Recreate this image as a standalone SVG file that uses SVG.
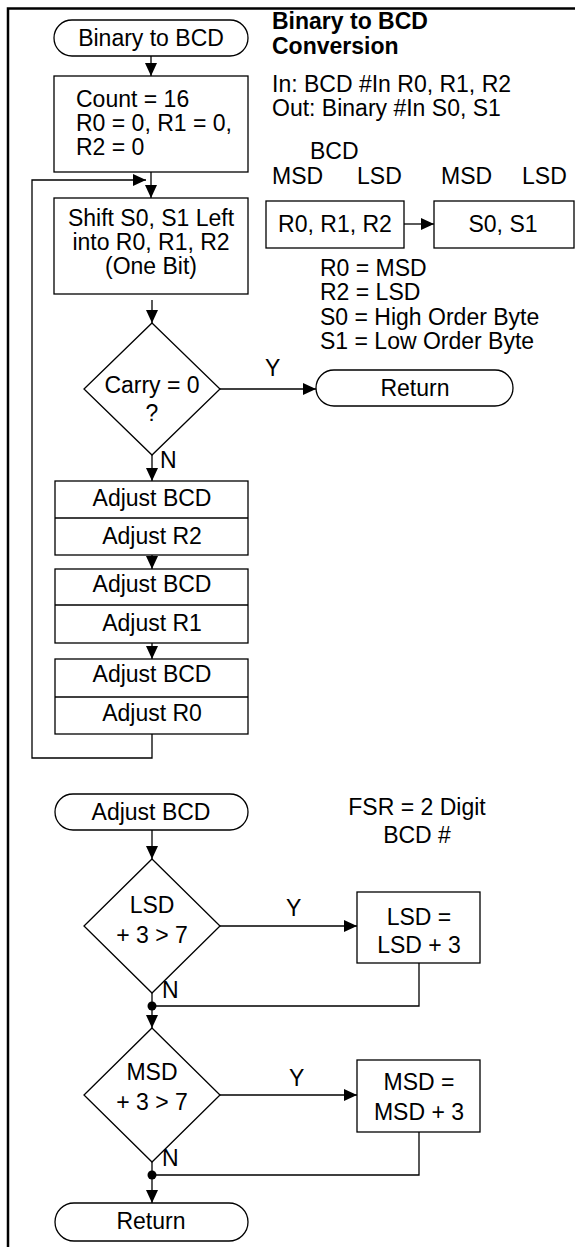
<svg xmlns="http://www.w3.org/2000/svg" width="575" height="1247" viewBox="0 0 575 1247">
<defs>
<style>
text{font-family:"Liberation Sans",Arial,sans-serif;font-size:23px;fill:#000}
.c{text-anchor:middle}
.b{font-weight:bold}
.s{fill:#fff;stroke:#000;stroke-width:1.3}
.ln{fill:none;stroke:#000;stroke-width:1.3}
.bd{fill:none;stroke:#000;stroke-width:2.5}
</style>
<marker id="ah" viewBox="0 0 13 12" refX="13" refY="6" markerWidth="13" markerHeight="12" markerUnits="userSpaceOnUse" orient="auto">
<path d="M0,0 L13,6 L0,12 Z" fill="#000"/>
</marker>
</defs>
<rect width="575" height="1247" fill="#fff"/>
<path class="bd" d="M8,1247 V8.5 H575"/>

<g id="connectors">
<line class="ln" x1="151" y1="56" x2="151" y2="76" marker-end="url(#ah)"/>
<line class="ln" x1="151" y1="172" x2="151" y2="198" marker-end="url(#ah)"/>
<path class="ln" d="M152,734 V758 H32 V180 H146" marker-end="url(#ah)"/>
<line class="ln" x1="152" y1="300" x2="152" y2="323" marker-end="url(#ah)"/>
<line class="ln" x1="220" y1="389" x2="316" y2="389" marker-end="url(#ah)"/>
<line class="ln" x1="152" y1="455" x2="152" y2="481" marker-end="url(#ah)"/>
<line class="ln" x1="152" y1="552" x2="152" y2="569" marker-end="url(#ah)"/>
<line class="ln" x1="152" y1="640" x2="152" y2="659" marker-end="url(#ah)"/>
<line class="ln" x1="404" y1="224" x2="434" y2="224" marker-end="url(#ah)"/>
<line class="ln" x1="152" y1="830" x2="152" y2="859" marker-end="url(#ah)"/>
<line class="ln" x1="220" y1="926" x2="357" y2="926" marker-end="url(#ah)"/>
<path class="ln" d="M419,963 V1006 H152"/>
<line class="ln" x1="152" y1="993" x2="152" y2="1006"/>
<line class="ln" x1="152" y1="1006" x2="152" y2="1028" marker-end="url(#ah)"/>
<circle cx="152" cy="1006" r="4.5" fill="#000"/>
<line class="ln" x1="220" y1="1095" x2="357" y2="1095" marker-end="url(#ah)"/>
<path class="ln" d="M419,1132 V1175 H152"/>
<line class="ln" x1="152" y1="1162" x2="152" y2="1175"/>
<line class="ln" x1="152" y1="1175" x2="152" y2="1203" marker-end="url(#ah)"/>
<circle cx="152" cy="1175" r="4.5" fill="#000"/>
<text x="265" y="376">Y</text>
<text x="160" y="468">N</text>
<text x="286" y="916">Y</text>
<text x="162" y="998">N</text>
<text x="289" y="1086">Y</text>
<text x="162" y="1166">N</text>
</g>

<g id="start">
<rect class="s" x="54" y="20" width="194" height="36" rx="18"/>
<text class="c" x="151" y="46">Binary to BCD</text>
</g>
<g id="init">
<rect class="s" x="54" y="76" width="194" height="96"/>
<text x="76" y="107">Count = 16</text>
<text x="76" y="131">R0 = 0, R1 = 0,</text>
<text x="76" y="155">R2 = 0</text>
</g>
<g id="shift">
<rect class="s" x="54" y="198" width="194" height="96"/>
<text class="c" x="151" y="226">Shift S0, S1 Left</text>
<text class="c" x="151" y="250">into R0, R1, R2</text>
<text class="c" x="151" y="274">(One Bit)</text>
</g>
<g id="carry">
<polygon class="s" points="152,323 220,389 152,455 84,389"/>
<text class="c" x="152" y="393">Carry = 0</text>
<text class="c" x="152" y="421">?</text>
</g>
<g id="return1">
<rect class="s" x="316" y="370" width="197" height="36" rx="18"/>
<text class="c" x="415" y="396">Return</text>
</g>
<g id="adjR2">
<rect class="s" x="55" y="481" width="193" height="74"/>
<line class="ln" x1="55" y1="518" x2="248" y2="518"/>
<text class="c" x="152" y="506">Adjust BCD</text>
<text class="c" x="152" y="544">Adjust R2</text>
</g>
<g id="adjR1">
<rect class="s" x="55" y="569" width="193" height="74"/>
<line class="ln" x1="55" y1="605" x2="248" y2="605"/>
<text class="c" x="152" y="592">Adjust BCD</text>
<text class="c" x="152" y="631">Adjust R1</text>
</g>
<g id="adjR0">
<rect class="s" x="55" y="659" width="193" height="75"/>
<line class="ln" x1="55" y1="697" x2="248" y2="697"/>
<text class="c" x="152" y="682">Adjust BCD</text>
<text class="c" x="152" y="721">Adjust R0</text>
</g>

<g id="notes">
<text class="b" x="272" y="29">Binary to BCD</text>
<text class="b" x="272" y="54">Conversion</text>
<text x="272" y="92">In: BCD #In R0, R1, R2</text>
<text x="272" y="116">Out: Binary #In S0, S1</text>
<text x="310" y="159">BCD</text>
<text x="272" y="184">MSD</text>
<text x="357" y="184">LSD</text>
<text x="441" y="184">MSD</text>
<text x="522" y="184">LSD</text>
<text x="320" y="276">R0 = MSD</text>
<text x="320" y="300">R2 = LSD</text>
<text x="320" y="325">S0 = High Order Byte</text>
<text x="320" y="349">S1 = Low Order Byte</text>
</g>
<g id="bcdbox">
<rect class="s" x="266" y="201" width="138" height="47"/>
<text class="c" x="335" y="232">R0, R1, R2</text>
</g>
<g id="binbox">
<rect class="s" x="434" y="201" width="140" height="47"/>
<text class="c" x="503" y="232">S0, S1</text>
</g>

<g id="adjstart">
<rect class="s" x="55" y="794" width="193" height="36" rx="18"/>
<text class="c" x="151" y="820">Adjust BCD</text>
</g>
<g id="fsrnote">
<text class="c" x="417" y="815">FSR = 2 Digit</text>
<text class="c" x="417" y="843">BCD #</text>
</g>
<g id="lsdtest">
<polygon class="s" points="152,859 220,926 152,993 84,926"/>
<text class="c" x="152" y="913">LSD</text>
<text class="c" x="152" y="943">+ 3 &gt; 7</text>
</g>
<g id="lsdadd">
<rect class="s" x="357" y="892" width="123" height="71"/>
<text class="c" x="419" y="925">LSD =</text>
<text class="c" x="419" y="953">LSD + 3</text>
</g>
<g id="msdtest">
<polygon class="s" points="152,1028 220,1095 152,1162 84,1095"/>
<text class="c" x="152" y="1080">MSD</text>
<text class="c" x="152" y="1110">+ 3 &gt; 7</text>
</g>
<g id="msdadd">
<rect class="s" x="357" y="1060" width="123" height="72"/>
<text class="c" x="419" y="1090">MSD =</text>
<text class="c" x="419" y="1120">MSD + 3</text>
</g>
<g id="return2">
<rect class="s" x="55" y="1203" width="193" height="38" rx="19"/>
<text class="c" x="151" y="1229">Return</text>
</g>
</svg>
